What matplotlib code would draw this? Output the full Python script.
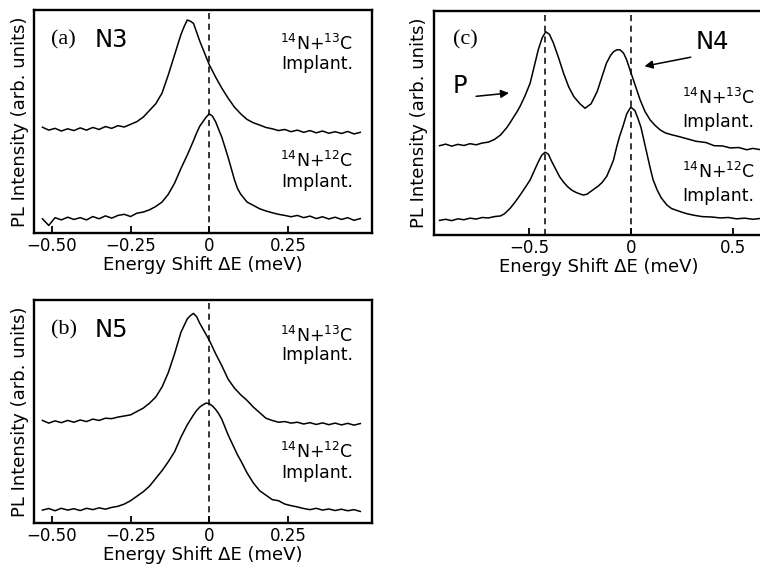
import matplotlib
matplotlib.use("Agg")
import matplotlib.pyplot as plt

# --- (a) N3 ---
x_a13 = [-0.53, -0.51, -0.49, -0.47, -0.45, -0.43, -0.41, -0.39, -0.37, -0.35,
         -0.33, -0.31, -0.29, -0.27, -0.25, -0.23, -0.21, -0.19, -0.17, -0.15,
         -0.13, -0.11, -0.09, -0.08, -0.07, -0.06, -0.05, -0.04, -0.03, -0.02,
         -0.01, 0.0, 0.02, 0.04, 0.06, 0.08, 0.10, 0.12, 0.14, 0.16,
         0.18, 0.20, 0.22, 0.24, 0.26, 0.28, 0.30, 0.32, 0.34, 0.36,
         0.38, 0.40, 0.42, 0.44, 0.46, 0.48]
y_a13 = [0.475, 0.462, 0.47, 0.458, 0.468, 0.46, 0.472, 0.462, 0.474, 0.465,
         0.478, 0.47, 0.482, 0.476, 0.488, 0.5, 0.52, 0.55, 0.58, 0.628,
         0.71, 0.80, 0.89, 0.925, 0.955, 0.95, 0.94, 0.90, 0.86, 0.825,
         0.79, 0.755, 0.70, 0.65, 0.605, 0.565, 0.535, 0.51, 0.495, 0.485,
         0.474, 0.468, 0.46, 0.465, 0.455, 0.462, 0.452, 0.46, 0.45, 0.458,
         0.448, 0.455, 0.447, 0.456, 0.445, 0.452]

x_a12 = [-0.53, -0.51, -0.49, -0.47, -0.45, -0.43, -0.41, -0.39, -0.37, -0.35,
         -0.33, -0.31, -0.29, -0.27, -0.25, -0.23, -0.21, -0.19, -0.17, -0.15,
         -0.13, -0.11, -0.09, -0.07, -0.05, -0.04, -0.03, -0.02, -0.01, 0.0,
         0.01, 0.02, 0.03, 0.04, 0.05, 0.06, 0.07, 0.08, 0.09, 0.10,
         0.12, 0.14, 0.16, 0.18, 0.20, 0.22, 0.24, 0.26, 0.28, 0.30,
         0.32, 0.34, 0.36, 0.38, 0.40, 0.42, 0.44, 0.46, 0.48]
y_a12 = [0.065, 0.035, 0.07, 0.06, 0.072, 0.062, 0.07, 0.06, 0.075, 0.065,
         0.078, 0.068, 0.08, 0.085, 0.075, 0.09, 0.095, 0.105, 0.12, 0.14,
         0.175, 0.225, 0.29, 0.35, 0.415, 0.45, 0.48, 0.50, 0.52, 0.535,
         0.525, 0.50, 0.465, 0.43, 0.385, 0.34, 0.29, 0.24, 0.20, 0.175,
         0.14, 0.125, 0.11, 0.10, 0.092, 0.085, 0.08, 0.074, 0.08, 0.07,
         0.077, 0.066, 0.074, 0.064, 0.072, 0.062, 0.07, 0.058, 0.066]

# --- (b) N5 ---
x_b13 = x_a13
y_b13 = [0.46, 0.448, 0.458, 0.45, 0.46, 0.452, 0.462, 0.455, 0.466, 0.46,
         0.47, 0.468, 0.475, 0.48, 0.485, 0.5, 0.515, 0.537, 0.565, 0.61,
         0.675, 0.76, 0.855, 0.885, 0.915, 0.93, 0.94, 0.925, 0.895, 0.87,
         0.845, 0.82, 0.76, 0.705, 0.645, 0.605, 0.575, 0.55, 0.52, 0.495,
         0.47, 0.46, 0.452, 0.455, 0.448, 0.452, 0.444, 0.45, 0.442, 0.449,
         0.441, 0.448, 0.44, 0.447, 0.439, 0.446]

x_b12 = x_a12
y_b12 = [0.058, 0.065, 0.055, 0.066, 0.058, 0.064, 0.056, 0.066, 0.06, 0.068,
         0.062, 0.07, 0.075, 0.085, 0.1, 0.12, 0.14, 0.165, 0.2, 0.235,
         0.275, 0.32, 0.385, 0.44, 0.485, 0.505, 0.52, 0.53, 0.538, 0.535,
         0.525, 0.51, 0.49, 0.465, 0.43, 0.395, 0.365, 0.335, 0.305, 0.28,
         0.225, 0.18, 0.145, 0.125, 0.105, 0.1, 0.085, 0.078, 0.072, 0.065,
         0.06, 0.066, 0.058, 0.063, 0.056, 0.062, 0.055, 0.06, 0.052]

# --- (c) N4 and P ---
x_c13 = [-0.94, -0.91, -0.88, -0.85, -0.82, -0.79, -0.76, -0.73, -0.70, -0.67,
         -0.64, -0.61, -0.59, -0.575, -0.56, -0.545, -0.52, -0.495, -0.475, -0.455,
         -0.435, -0.418, -0.40, -0.38, -0.355, -0.33, -0.305, -0.28, -0.25, -0.225,
         -0.195, -0.165, -0.14, -0.12, -0.10, -0.085, -0.068, -0.052, -0.035, -0.02,
         0.0, 0.013, 0.03, 0.046, 0.07, 0.095, 0.12, 0.145, 0.17, 0.20,
         0.24, 0.28, 0.32, 0.37, 0.41, 0.45, 0.49, 0.53, 0.57, 0.60,
         0.64]
y_c13 = [0.398, 0.405, 0.396, 0.404, 0.399, 0.407, 0.402, 0.41, 0.414, 0.426,
         0.446, 0.478, 0.505, 0.527, 0.548, 0.572, 0.62, 0.676, 0.75, 0.825,
         0.88, 0.906, 0.895, 0.855, 0.79, 0.72, 0.66, 0.617, 0.585, 0.565,
         0.585, 0.64, 0.71, 0.765, 0.8, 0.817, 0.826, 0.825, 0.81, 0.78,
         0.725, 0.691, 0.645, 0.602, 0.55, 0.513, 0.488, 0.468, 0.455, 0.447,
         0.438, 0.428, 0.418, 0.412, 0.398, 0.397, 0.388, 0.39, 0.38, 0.386,
         0.38]

x_c12 = [-0.94, -0.91, -0.88, -0.85, -0.82, -0.79, -0.76, -0.73, -0.70, -0.67,
         -0.64, -0.62, -0.593, -0.57, -0.55, -0.52, -0.495, -0.475, -0.455, -0.438,
         -0.421, -0.405, -0.39, -0.37, -0.35, -0.33, -0.31, -0.29, -0.27, -0.25,
         -0.233, -0.215, -0.2, -0.18, -0.16, -0.14, -0.118, -0.10, -0.085, -0.069,
         -0.055, -0.04, -0.02, 0.0, 0.02, 0.035, 0.05, 0.065, 0.079, 0.095,
         0.11, 0.13, 0.15, 0.177, 0.2, 0.24, 0.275, 0.31, 0.35, 0.40,
         0.44, 0.48, 0.52, 0.56, 0.60, 0.64]
y_c12 = [0.065, 0.07, 0.064, 0.072, 0.068, 0.075, 0.071, 0.078, 0.076, 0.082,
         0.085, 0.095, 0.119, 0.145, 0.17, 0.21, 0.245, 0.285, 0.325, 0.355,
         0.369, 0.36, 0.33, 0.295, 0.26, 0.235, 0.215, 0.2, 0.19, 0.183,
         0.178, 0.182, 0.192, 0.205, 0.218, 0.235, 0.262, 0.3, 0.334, 0.394,
         0.44, 0.48, 0.54, 0.57, 0.555, 0.52, 0.48, 0.42, 0.364, 0.3,
         0.245, 0.2, 0.165, 0.134, 0.118, 0.105, 0.095, 0.088, 0.082, 0.08,
         0.076, 0.078, 0.072, 0.075, 0.07, 0.074]

ticks_ab = [-0.5, -0.25, 0.0, 0.25]
ticklabels_ab = ["\u22120.50", "\u22120.25", "0", "0.25"]
ticks_c = [-0.5, 0.0, 0.5]
ticklabels_c = ["\u22120.5", "0", "0.5"]
dashes_ab = [0.0]
dashes_c = [-0.42, 0.0]

label13 = "$^{14}$N+$^{13}$C"
label12 = "$^{14}$N+$^{12}$C"

plt.rcParams['font.family'] = ['DejaVu Sans']
plt.rcParams['mathtext.fontset'] = 'dejavusans'

fig = plt.figure(figsize=(7.6, 5.65), dpi=100)


def style_axes(ax, xlim, ticks, labels):
    ax.set_xlim(xlim)
    ax.set_ylim(0, 1)
    ax.set_xticks(ticks)
    ax.set_xticklabels(labels, fontsize=12)
    ax.set_yticks([])
    ax.tick_params(axis='x', direction='in', length=5, width=1.3, pad=3)
    for s in ax.spines.values():
        s.set_linewidth(1.7)
    ax.set_xlabel("Energy Shift \u0394E (meV)", fontsize=13, labelpad=0.5)
    ax.set_ylabel("PL Intensity (arb. units)", fontsize=13, labelpad=4)


def panel(rect, xlim, ticks, labels, curves, dashes):
    ax = fig.add_axes(rect)
    for x, y in curves:
        ax.plot(x, y, color='black', lw=1.1)
    for d in dashes:
        ax.axvline(d, color='black', lw=1.1, ls=(0, (4, 3)))
    style_axes(ax, xlim, ticks, labels)
    return ax


ax_a = panel([0.0451, 0.5871, 0.4439, 0.3952], (-0.556, 0.516), ticks_ab, ticklabels_ab,
             [(x_a13, y_a13), (x_a12, y_a12)], dashes_ab)
ax_b = panel([0.0451, 0.0743, 0.4439, 0.3947], (-0.556, 0.516), ticks_ab, ticklabels_ab,
             [(x_b13, y_b13), (x_b12, y_b12)], dashes_ab)
ax_c = panel([0.5711, 0.5841, 0.4329, 0.397], (-0.967, 0.65), ticks_c, ticklabels_c,
             [(x_c13, y_c13), (x_c12, y_c12)], dashes_c)
ax_c.spines['right'].set_visible(False)

for ax, tag, name, ys in [(ax_a, "(a)", "N3", (0.821, 0.734, 0.298, 0.209)),
                          (ax_b, "(b)", "N5", (0.813, 0.731, 0.29, 0.2))]:
    ax.text(0.05, 0.866, tag, transform=ax.transAxes, fontsize=16,
            family='Liberation Serif', va='center', ha='left')
    ax.text(0.18, 0.866, name, transform=ax.transAxes, fontsize=17.5, va='center', ha='left')
    for yy, s in zip(ys, [label13, "Implant.", label12, "Implant."]):
        ax.text(0.945, yy, s, transform=ax.transAxes, fontsize=12.5,
                va='baseline', ha='right')

ax_c.text(0.058, 0.87, "(c)", transform=ax_c.transAxes, fontsize=16,
          family='Liberation Serif', va='center', ha='left')
ax_c.text(0.795, 0.862, "N4", transform=ax_c.transAxes, fontsize=17.5, va='center', ha='left')
ax_c.text(0.058, 0.664, "P", transform=ax_c.transAxes, fontsize=17.5, va='center', ha='left')
ax_c.annotate("", xy=(-0.585, 0.634), xytext=(-0.774, 0.617),
              arrowprops=dict(arrowstyle='-|>', color='black', lw=1.1, mutation_scale=12))
ax_c.annotate("", xy=(0.054, 0.75), xytext=(0.308, 0.795),
              arrowprops=dict(arrowstyle='-|>', color='black', lw=1.1, mutation_scale=12))
for yy, s in zip([0.61, 0.504, 0.28, 0.174], [label13, "Implant.", label12, "Implant."]):
    ax_c.text(0.753, yy, s, transform=ax_c.transAxes, fontsize=12.5, va='center', ha='left')

fig.savefig("out.png", dpi=100)
